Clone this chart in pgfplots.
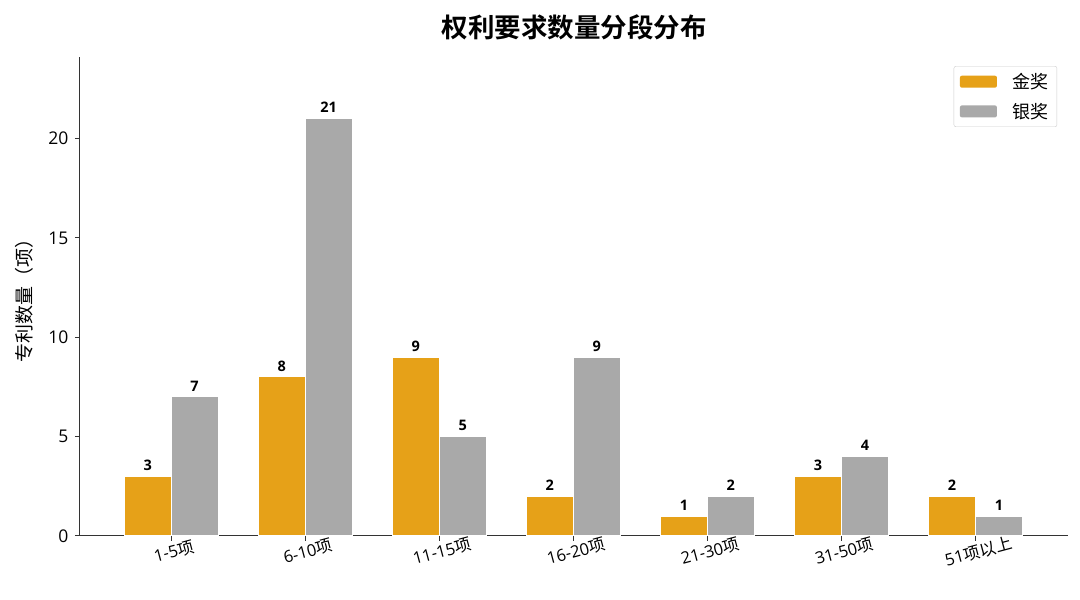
\documentclass[border=0pt]{standalone}
\usepackage{pgfplots}
\pgfplotsset{compat=1.18}
\usepackage{fontspec}
\setmainfont{Open Sans}
\newfontfamily\cjk{Noto Sans CJK SC}[BoldFont={Noto Sans CJK SC Bold}]
\definecolor{gold}{HTML}{E6A118}
\definecolor{silver}{HTML}{A9A9A9}
\definecolor{spine}{HTML}{333333}
\newcommand\fs[1]{\fontsize{#1}{#1}\selectfont}
\begin{document}
\begin{tikzpicture}[x=1pt,y=1pt]
\path[use as bounding box] (0,0) rectangle (1080,600);
\node[font=\cjk\bfseries\fs{26.5}] at (574,573) {权利要求数量分段分布};
\begin{axis}[
    at={(80pt,64pt)}, anchor=south west,
    scale only axis, width=988pt, height=479pt,
    ybar, bar width=0.35,
    xmin=-0.68, xmax=6.69, ymin=0, ymax=24.1,
    axis lines*=left,
    axis line style={spine, line width=1pt},
    tick style={spine, line width=1pt},
    tick align=outside, major tick length=5pt,
    xtick={0,...,6},
    xticklabels={1-5{\cjk 项},6-10{\cjk 项},11-15{\cjk 项},16-20{\cjk 项},21-30{\cjk 项},31-50{\cjk 项},51{\cjk 项以上}},
    xticklabel style={rotate=15, anchor=north, font=\fs{16.5}},
    ytick={0,5,10,15,20},
    yticklabel style={font=\fs{17.5}, xshift=-3pt},
    /pgf/number format/assume math mode=true,
    ylabel={\cjk 专利数量（项）},
    ylabel style={font=\fs{19}, at={(axis description cs:-0.056,0.5)}, anchor=center},
    nodes near coords,
    every node near coord/.append style={font=\bfseries\fs{14.5}, text=black, yshift=2pt},
    legend style={at={(0.989,0.981)}, anchor=north east, draw=black!20,
        rounded corners=2pt, font=\cjk\fs{18}, row sep=9pt, inner xsep=6pt, inner ysep=5pt},
    legend image code/.code={\fill[#1,draw=none] (0pt,-6pt) rectangle (37pt,6pt);},
    legend cell align=left,
]
\addplot[fill=gold, draw=white, line width=1pt, bar shift=-0.175]
    coordinates {(0,3) (1,8) (2,9) (3,2) (4,1) (5,3) (6,2)};
\addplot[fill=silver, draw=white, line width=1pt, bar shift=0.175]
    coordinates {(0,7) (1,21) (2,5) (3,9) (4,2) (5,4) (6,1)};
\legend{\hspace*{14pt}金奖,\hspace*{14pt}银奖}
\end{axis}
\end{tikzpicture}
\end{document}
